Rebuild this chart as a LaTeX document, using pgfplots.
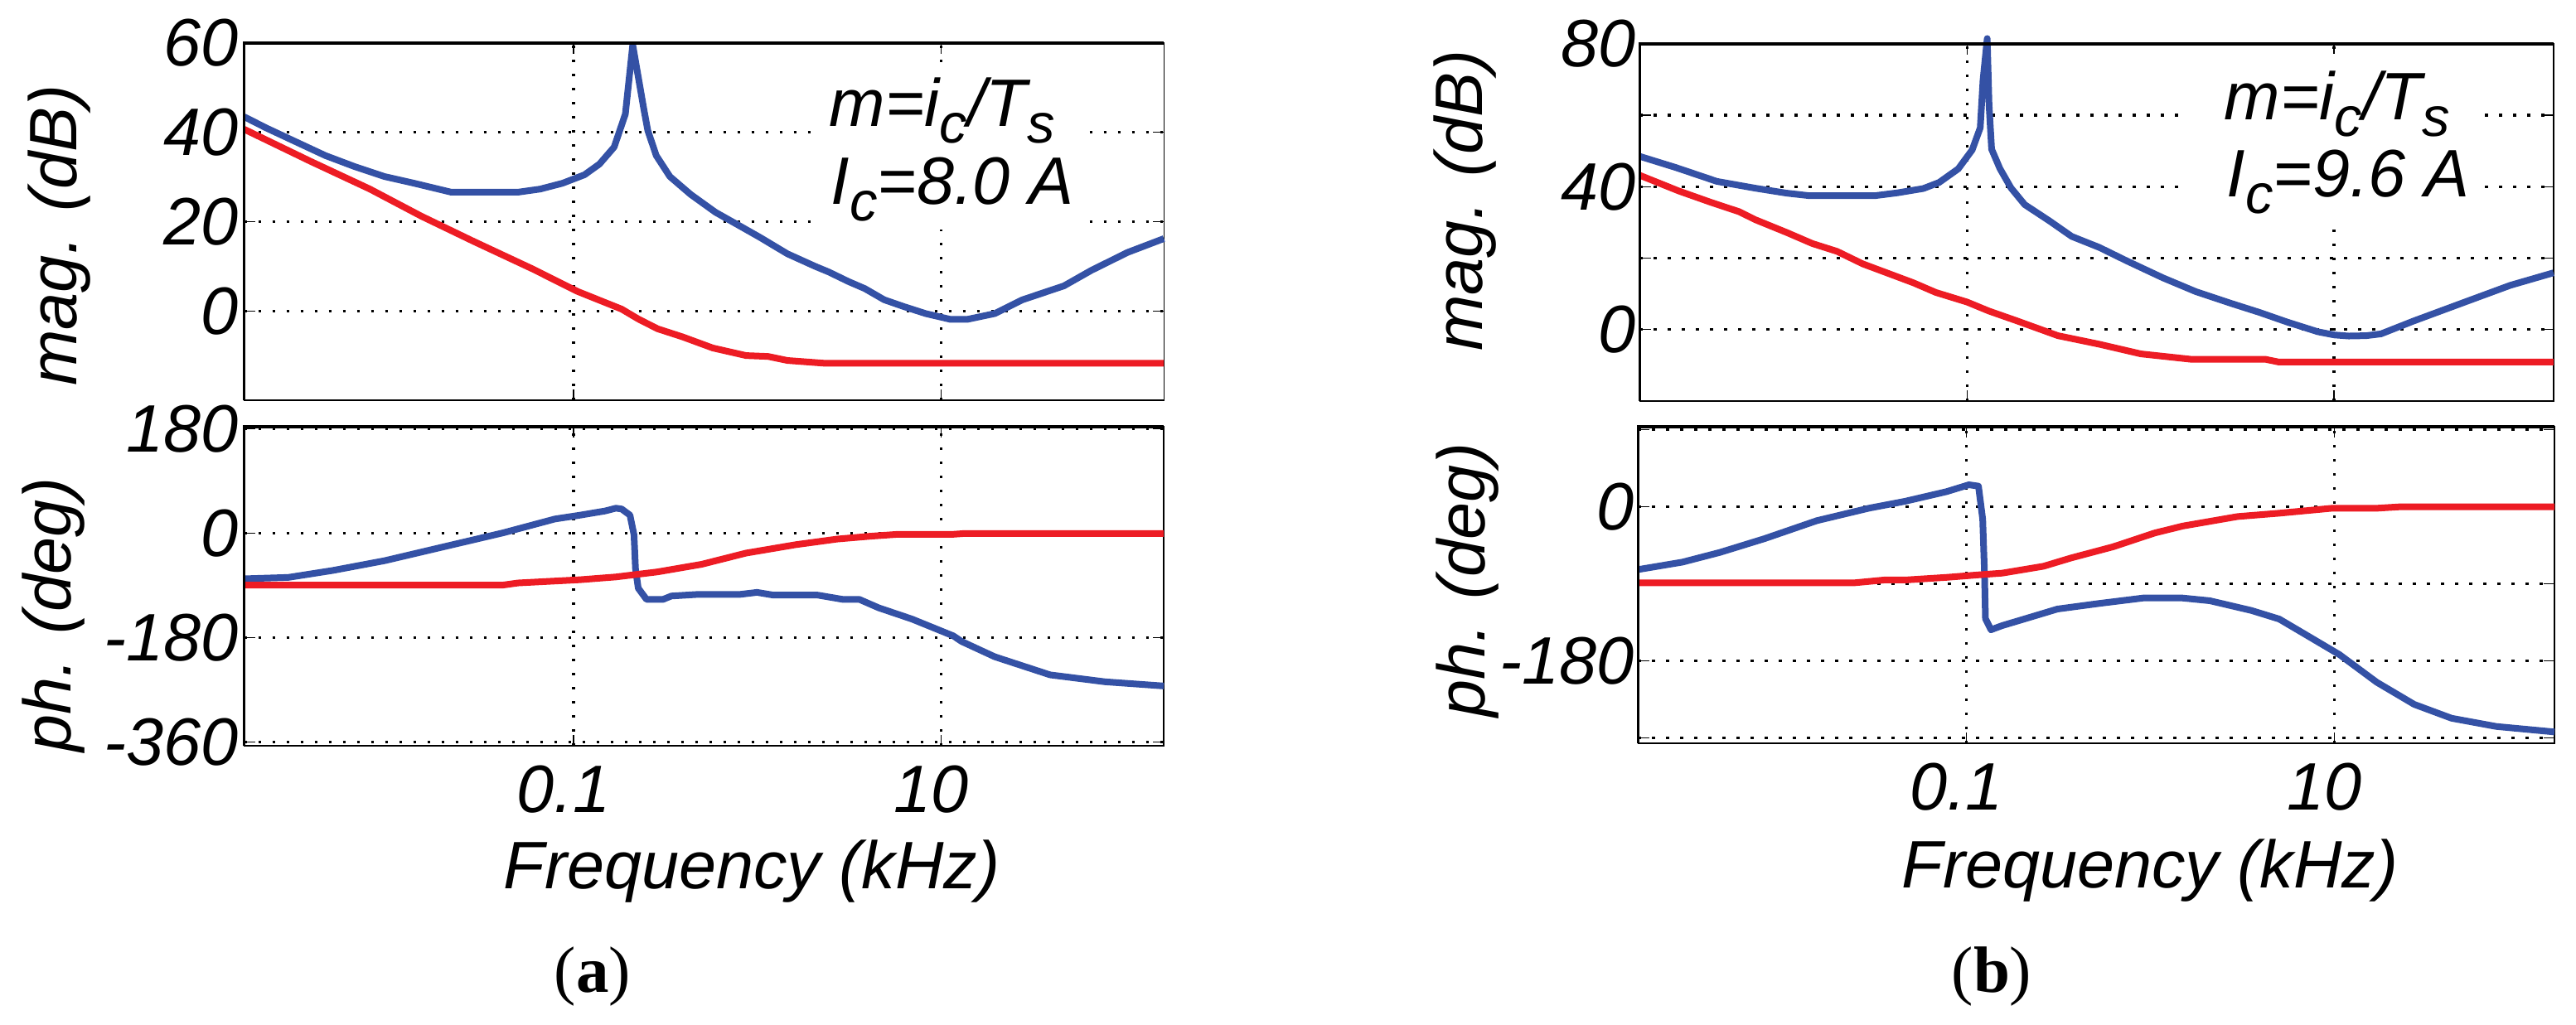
\documentclass[border=0pt]{standalone}
\usepackage{fontspec}
\setmainfont{Liberation Sans}
\newfontfamily\capfont{Liberation Serif}
\usepackage{pgfplots}
\pgfplotsset{compat=1.18}
\definecolor{blueC}{RGB}{52,81,165}
\definecolor{redC}{RGB}{237,28,36}
\newcommand\bigf{\fontsize{20.25}{24}\selectfont\itshape}
\newcommand\sub[1]{\raisebox{-5pt}{\fontsize{16.75}{18}\selectfont\itshape #1}}
\pgfplotsset{
  bode/.style={
    scale only axis, clip=false,
    axis line style={line width=0.35pt},
    xtick={0.1,10}, minor tick num=0,
    minor tick style={draw=none},
    grid=major,
    major grid style={black, line width=0.85pt, dash pattern=on 0.85pt off 3.4pt},
    tick style={black, line width=0.35pt},
    major tick length=3.3pt,
    tick align=inside,
    xtick pos=both, ytick pos=both,
    xticklabel pos=bottom, yticklabel pos=left,
    ticklabel style={font=\bigf},
    yticklabel style={inner sep=0pt, anchor=east, xshift=-1.5pt},
    xticklabel style={inner sep=0pt, anchor=north, yshift=-5.75pt, xshift=-3pt},
    every axis plot/.append style={line width=2pt, line join=round, no marks},
  },
}
\begin{document}
\begin{tikzpicture}
\useasboundingbox (0,0) rectangle (777pt,309.25pt);

% ---------- (a) magnitude ----------
\begin{semilogxaxis}[bode, at={(73.65pt,188.5pt)}, anchor=south west, width=277.4pt, height=107.75pt,
  xmin=0.00162, xmax=162, ymin=-20, ymax=60,
  ytick={0,20,40,60}, yticklabels={0,20,40,60}, xticklabels={}]
\addplot[blueC] coordinates {
(0.00162,43.5) (0.002133,41.0) (0.00309,37.9) (0.00448,34.8) (0.00649,32.3)
(0.0094,30.1) (0.01361,28.6) (0.02163,26.6) (0.0499,26.6) (0.0659,27.3)
(0.0871,28.6) (0.1148,30.5) (0.1384,32.9) (0.1663,36.7) (0.1914,44.1)
(0.2099,59.6) (0.2410,45.3) (0.2535,40.4) (0.2818,34.8) (0.3342,30.1)
(0.4335,26.1) (0.5916,22.1) (0.7816,19.3) (1.030,16.5) (1.455,12.8)
(2.056,10.0) (2.449,8.7) (3.119,6.6) (3.837,5.0) (4.887,2.5)
(6.223,1.0) (8.222,-0.6) (11.22,-1.9) (13.80,-1.9) (19.50,-0.6)
(27.61,2.5) (46.34,5.6) (65.46,9.1) (102.8,13.1) (162,16.2)
};
\addplot[redC] coordinates {
(0.00162,40.7) (0.003724,33.5) (0.007816,27.3) (0.01493,21.2) (0.02858,15.6)
(0.05998,9.4) (0.1047,4.4) (0.1828,0.4) (0.2249,-1.8) (0.2864,-4.0)
(0.3908,-5.8) (0.5715,-8.3) (0.8670,-10.0) (1.143,-10.2) (1.455,-11.1)
(2.280,-11.7) (162,-11.7)
};
\draw[line width=0.85pt] (rel axis cs:0,0) -- (rel axis cs:0,1) -- (rel axis cs:1,1);
\end{semilogxaxis}

% ---------- (a) phase ----------
\begin{semilogxaxis}[bode, at={(73.65pt,84.25pt)}, anchor=south west, width=277.4pt, height=96.25pt,
  xmin=0.00162, xmax=162, ymin=-366, ymax=184,
  ytick={-360,-180,0,180}, yticklabels={-360,-180,0,180}, xticklabels={0.1,10}]
\addplot[blueC] coordinates {
(0.00162,-78.2) (0.002818,-75.8) (0.00492,-63.8) (0.0094,-47.0) (0.01972,-23.0)
(0.0414,1.0) (0.07925,24.9) (0.10864,31.5) (0.14825,38.7) (0.17022,43.5)
(0.1828,42.1) (0.20277,31.5) (0.21330,-2.4) (0.21727,-60.5) (0.2249,-94.4)
(0.24946,-113.7) (0.30690,-113.7) (0.34041,-107.9) (0.48084,-105.0) (0.80910,-105.0)
(0.99541,-101.6) (1.2246,-106.4) (2.1330,-106.4) (2.9107,-113.7) (3.5810,-113.7)
(4.5604,-128.2) (6.9183,-147.6) (11.614,-176.6) (12.88,-186.2) (19.50,-212.6)
(38.99,-243.8) (77.80,-255.8) (162,-263.0)
};
\addplot[redC] coordinates {
(0.00162,-89) (0.0414,-89) (0.0499,-85.4) (0.10864,-79.8) (0.17022,-75.0)
(0.2864,-66.3) (0.4977,-53.2) (0.8670,-33.9) (1.6144,-19.4) (2.7164,-9.7)
(4.1115,-4.8) (5.808,-1.5) (11.614,-1.5) (13.49,0) (162,0)
};
\draw[line width=0.85pt] (rel axis cs:0,0) -- (rel axis cs:0,1) -- (rel axis cs:1,1);
\end{semilogxaxis}

% ---------- (b) magnitude ----------
\begin{semilogxaxis}[bode, at={(494.6pt,188.25pt)}, anchor=south west, width=275.6pt, height=107.75pt,
  xmin=0.001648, xmax=156.7, ymin=-20, ymax=80,
  ytick={0,20,40,60,80}, yticklabels={0,,40,,80}, xticklabels={},
  yticklabel style={xshift=0.5pt}]
\addplot[blueC] coordinates {
(0.001648,48.5) (0.002582,45.4) (0.004335,41.5) (0.006998,39.6) (0.01040,38.2)
(0.01377,37.5) (0.03162,37.5) (0.04188,38.3) (0.05781,39.5) (0.07047,41.2)
(0.08954,45.0) (0.10666,50.3) (0.11803,56.5) (0.12218,69.8) (0.12882,81.5)
(0.1318,63.0) (0.13614,50.5) (0.15101,45.1) (0.17338,39.7) (0.20606,35.0)
(0.2818,30.4) (0.3715,26.1) (0.5260,23.0) (0.7447,19.2) (1.1668,14.5)
(1.7701,10.6) (2.6853,7.5) (3.9264,4.8) (5.5590,2.1) (8.1470,-0.6)
(10.02,-1.5) (12.0,-1.8) (15.0,-1.7) (18.0,-1.2) (27.10,2.4) (52.12,7.8)
(91.20,12.4) (156.7,15.9)
};
\addplot[redC] coordinates {
(0.001648,43.2) (0.002692,38.8) (0.00399,35.7) (0.005741,33.0) (0.006998,30.8)
(0.01040,27.2) (0.014355,24.1) (0.019588,21.9) (0.02704,18.4) (0.05105,13.1)
(0.06761,10.4) (0.1002,7.7) (0.13152,5.2) (0.18578,2.5) (0.3126,-1.7)
(0.5260,-4.1) (0.8851,-6.8) (1.652,-8.3) (4.207,-8.3) (5.012,-9.1) (156.7,-9.1)
};
\draw[line width=0.85pt] (rel axis cs:0,0) -- (rel axis cs:0,1) -- (rel axis cs:1,1);
\end{semilogxaxis}

% ---------- (b) phase ----------
\begin{semilogxaxis}[bode, at={(494.1pt,85.0pt)}, anchor=south west, width=276.4pt, height=95.5pt,
  xmin=0.001648, xmax=156.7, ymin=-276, ymax=93.6,
  ytick={-270,-180,-90,0,90}, yticklabels={,-180,,0,}, xticklabels={0.1,10},
  yticklabel style={xshift=0.5pt}]
\addplot[blueC] coordinates {
(0.001648,-73.2) (0.002871,-64.5) (0.004581,-53.2) (0.008017,-37.1) (0.015417,-16.1)
(0.02965,-1.5) (0.04645,6.5) (0.07816,17.8) (0.10328,25.8) (0.11641,24.2)
(0.12274,-14.5) (0.12560,-79) (0.12706,-130.6) (0.13614,-143.5) (0.15631,-138.7)
(0.22131,-129) (0.3126,-119.3) (0.5260,-112.8) (0.9162,-106.4) (1.4894,-106.4)
(2.1038,-109.6) (3.5400,-121) (5.012,-131) (6.668,-146.7) (10.64,-172.5)
(16.98,-204.8) (27.10,-230.6) (43.25,-246.8) (75.68,-256.4) (156.7,-262.8)
};
\addplot[redC] coordinates {
(0.001648,-88.7) (0.0246,-88.7) (0.03573,-85.4) (0.04645,-85.4) (0.07816,-82.3)
(0.12274,-79) (0.15631,-77.4) (0.2630,-69.3) (0.3715,-59.6) (0.6252,-46.7)
(1.0520,-30.6) (1.4894,-22.5) (2.979,-11.3) (5.012,-7.4) (9.705,-1.6)
(16.98,-1.6) (22.44,0) (156.7,0)
};
\draw[line width=0.85pt] (rel axis cs:0,0) -- (rel axis cs:0,1) -- (rel axis cs:1,1);
\end{semilogxaxis}

% ---------- annotations ----------
\fill[white] (244.5pt,240pt) rectangle (328pt,290pt);
\node[anchor=base west, inner sep=0pt, font=\bigf] at (250pt,271pt) {m=i\sub{c}/T\sub{s}};
\node[anchor=base west, inner sep=0pt, font=\bigf] at (250.5pt,247.5pt) {I\sub{c}=8.0 A};
\fill[white] (658.5pt,240pt) rectangle (749.5pt,293pt);
\node[anchor=base west, inner sep=0pt, font=\bigf] at (670.75pt,273pt) {m=i\sub{c}/T\sub{s}};
\node[anchor=base west, inner sep=0pt, font=\bigf] at (671.5pt,249.75pt) {I\sub{c}=9.6 A};

\node[rotate=90, inner sep=0pt, font=\bigf] at (18pt,238.25pt) {mag. (dB)};
\node[rotate=90, inner sep=0pt, font=\bigf] at (16.25pt,123.75pt) {ph. (deg)};
\node[rotate=90, inner sep=0pt, font=\bigf] at (442pt,248.75pt) {mag. (dB)};
\node[rotate=90, inner sep=0pt, font=\bigf] at (442.75pt,134.25pt) {ph. (deg)};

\node[anchor=base, inner sep=0pt, font=\bigf] at (226.75pt,41pt) {Frequency (kHz)};
\node[anchor=base, inner sep=0pt, font=\bigf] at (648.5pt,41.25pt) {Frequency (kHz)};

\node[anchor=base, inner sep=0pt, font=\capfont\fontsize{19.75}{22}\selectfont] at (178.75pt,9.75pt) {(\textbf{a})};
\node[anchor=base, inner sep=0pt, font=\capfont\fontsize{19.75}{22}\selectfont] at (600.75pt,9.75pt) {(\textbf{b})};
\end{tikzpicture}
\end{document}
